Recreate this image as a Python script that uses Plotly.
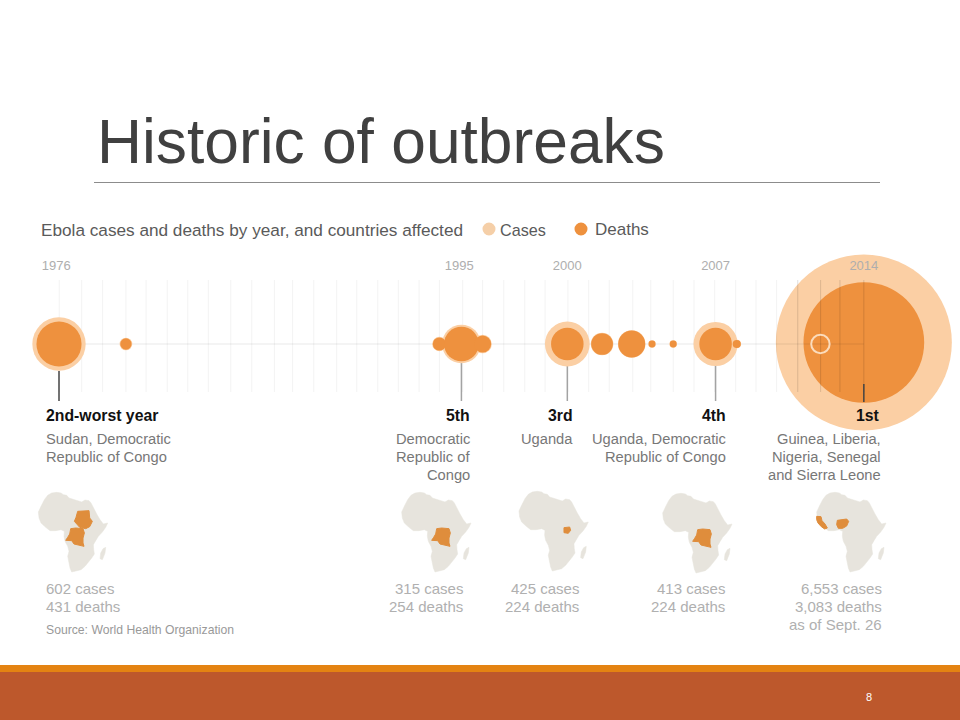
import plotly.graph_objects as go

# ---------- chart data ----------
bubble_years = [1976, 1979.16, 1993.96, 1995, 1996, 2000, 2001.64, 2003.04, 2004, 2005, 2007, 2008]
bubble_cases = [602, 34, 44, 315, 72, 425, 108, 160, 12, 12, 413, 16]
bubble_deaths = [431, 27, 37, 254, 62, 224, 100, 154, 10, 10, 224, 14]
current_year = [2014]
current_cases = [6553]
current_deaths = [3083]
ring_year = [2011.95]
ring_cases = [72]
grid_years = [1976.01, 1977.07, 1978.06, 1979.16, 1980.11, 1981.11, 1982.08, 1983.05, 1984.11, 1985.10,
              1986.17, 1987.03, 1988.03, 1989.11, 1990.06, 1991.05, 1992.02, 1993.0, 1993.96, 1995.06,
              1996.0, 1997.0, 1997.99, 1998.95, 2000.03, 2001.01, 2001.98, 2003.09, 2003.94, 2005.0,
              2005.98, 2006.96, 2007.95, 2008.91, 2009.88, 2010.88, 2011.96, 2012.87, 2014.0]
label_years = [1976, 1995, 2000, 2007, 2014]
label_positions = [1975.87, 1994.9, 2000, 2007, 2014]
lead_years_light = [1995, 2000, 2007]
lead_years_dark = [1976, 2014]

# Africa outlines, traced in a local 240 x 255 box
africa_x = [48,60,75,88,95,105,112,120,135,150,160,172,178,185,195,205,215,228,222,212,200,192,185,186,188,180,170,160,148,130,120,115,110,108,112,108,100,97,98,88,72,55,42,28,22,20,28,38]
africa_y = [22,15,13,15,20,22,30,33,38,42,36,38,45,60,78,95,108,105,118,132,145,158,170,185,198,210,222,235,245,250,252,240,220,205,190,175,160,145,130,125,128,128,118,105,90,72,55,35]
madagascar_x = [214,222,220,212,205,207]
madagascar_y = [182,178,195,215,212,195]
drc_x = [125,140,162,166,162,162,165,150,135,128,110,116,122]
drc_y = [122,120,122,135,150,165,175,172,168,158,157,148,138]
sudan_x = [146,180,182,190,182,170,152,136,141]
sudan_y = [70,68,90,100,116,122,118,100,88]
uganda_x = [163,180,183,176,163]
uganda_y = [123,121,131,140,138]
west_x = [20,33,36,45,52,44,34,24,20]
west_y = [85,86,98,108,120,123,116,105,95]
nigeria_x = [82,110,116,110,98,85,80]
nigeria_y = [97,93,100,114,121,121,110]

# ---------- texts ----------
title_text = "Historic of outbreaks"
subtitle_text = "Ebola cases and deaths by year, and countries affected"
rank_labels = ["2nd-worst year", "5th", "3rd", "4th", "1st"]
country_lines = [
    ["Sudan, Democratic", "Republic of Congo"],
    ["Democratic", "Republic of", "Congo"],
    ["Uganda"],
    ["Uganda, Democratic", "Republic of Congo"],
    ["Guinea, Liberia,", "Nigeria, Senegal", "and Sierra Leone"],
]
stat_lines = [
    ["602 cases", "431 deaths"],
    ["315 cases", "254 deaths"],
    ["425 cases", "224 deaths"],
    ["413 cases", "224 deaths"],
    ["6,553 cases", "3,083 deaths", "as of Sept. 26"],
]
source_text = "Source: World Health Organization"
page_number = "8"

# ---------- styling ----------
W, H = 960, 720
CASE = "#FBCFA4"
DEATH = "#EE913E"
FONT = "Liberation Sans"
PX_PER_YEAR = 21.18
YEAR0_PX = 59
BASE_PX = 344
SIZEREF = 2 * 6553 / 176 ** 2


def year_at(px):
    return 1976 + (px - YEAR0_PX) / PX_PER_YEAR


def vlines(xs, y0, y1):
    ox, oy = [], []
    for x in xs:
        ox += [x, x, None]
        oy += [y0, y1, None]
    return ox, oy


def bubble(x, v, color, name, y=0):
    return go.Scatter(x=x, y=[y] * len(x), mode="markers", name=name, showlegend=False,
                      hoverinfo="skip",
                      marker=dict(size=v, sizemode="area", sizeref=SIZEREF, sizemin=0, opacity=1,
                                  color=color, line=dict(width=0)))


fig = go.Figure()
fig.add_trace(bubble(current_year, current_cases, CASE, "Cases 2014", y=-1.5))
fig.add_trace(bubble(current_year, current_deaths, DEATH, "Deaths 2014", y=-1.5))
gx, gy = vlines(grid_years, -64, 48)
fig.add_trace(go.Scatter(x=gx, y=gy, mode="lines", hoverinfo="skip", showlegend=False,
                         line=dict(color="rgba(0,0,0,0.05)", width=1)))
gx2, gy2 = vlines(grid_years[-4:], -64, 48)
fig.add_trace(go.Scatter(x=gx2, y=gy2, mode="lines", hoverinfo="skip", showlegend=False,
                         line=dict(color="rgba(0,0,0,0.08)", width=1)))
fig.add_trace(go.Scatter(x=[1976, 2014], y=[0, 0], mode="lines", hoverinfo="skip", showlegend=False,
                         line=dict(color="rgba(0,0,0,0.09)", width=1)))
lx, ly = vlines(lead_years_light, 18, 57)
fig.add_trace(go.Scatter(x=lx, y=ly, mode="lines", hoverinfo="skip", showlegend=False,
                         line=dict(color="#A3A3A3", width=1.5)))
fig.add_trace(go.Scatter(x=[lead_years_dark[0]] * 2, y=[27, 57], mode="lines", hoverinfo="skip",
                         showlegend=False, line=dict(color="#444444", width=1.5)))
fig.add_trace(go.Scatter(x=[lead_years_dark[1]] * 2, y=[40, 58], mode="lines", hoverinfo="skip",
                         showlegend=False, line=dict(color="#444444", width=1.5)))
fig.add_trace(bubble(bubble_years, bubble_cases, CASE, "Cases"))
fig.add_trace(bubble(bubble_years, bubble_deaths, DEATH, "Deaths"))
fig.add_trace(go.Scatter(x=ring_year, y=[0], mode="markers", hoverinfo="skip", showlegend=False,
                         marker=dict(size=ring_cases, sizemode="area", sizeref=SIZEREF, opacity=1,
                                     color="rgba(0,0,0,0)", line=dict(color="#FBDCBC", width=2))))

# ---------- small maps ----------
map_origins = [(31.7, 488), (395, 488), (512.3, 487), (656, 489), (810, 488)]
map_regions = [
    [(drc_x, drc_y, -8, 0), (sudan_x, sudan_y, -8, 0)],
    [(drc_x, drc_y, 0, 0)],
    [(uganda_x, uganda_y, -8, -1)],
    [(drc_x, drc_y, 0, 0)],
    [(west_x, west_y, 0, 0), (nigeria_x, nigeria_y, 0, 0)],
]
layout_axes = {}
for i, ((ox, oy), regions) in enumerate(zip(map_origins, map_regions)):
    n = i + 2
    layout_axes[f"xaxis{n}"] = dict(domain=[ox / W, (ox + 80) / W], range=[0, 240], visible=False,
                                    anchor=f"y{n}", fixedrange=True)
    layout_axes[f"yaxis{n}"] = dict(domain=[1 - (oy + 85) / H, 1 - oy / H], range=[255, 0], visible=False,
                                    anchor=f"x{n}", fixedrange=True)
    for xs, ys in [(africa_x, africa_y), (madagascar_x, madagascar_y)]:
        fig.add_trace(go.Scatter(x=xs + xs[:1], y=ys + ys[:1], fill="toself", mode="lines",
                                 fillcolor="#E7E4DD", line=dict(color="#E7E4DD", width=0.5),
                                 hoverinfo="skip", showlegend=False, xaxis=f"x{n}", yaxis=f"y{n}"))
    for xs, ys, dx, dy in regions:
        px_ = [v + dx for v in xs]
        py_ = [v + dy for v in ys]
        fig.add_trace(go.Scatter(x=px_ + px_[:1], y=py_ + py_[:1], fill="toself", mode="lines",
                                 fillcolor="#DF8D3C", line=dict(color="#DF8D3C", width=1),
                                 hoverinfo="skip", showlegend=False, xaxis=f"x{n}", yaxis=f"y{n}"))

# ---------- annotations ----------
annotations = []


def text(px, py, s, size, color, anchor="left", bold=False, fam=FONT):
    # annotation boxes carry about 2 px of padding; compensate so px is the ink edge
    shift = {"left": -2, "right": 2, "center": 0}[anchor]
    annotations.append(dict(x=(px + shift) / W, y=1 - py / H, xref="paper", yref="paper",
                            text=f"<b>{s}</b>" if bold else s,
                            xanchor=anchor, yanchor="middle", showarrow=False,
                            font=dict(family=fam, size=size, color=color)))


text(97, 142, title_text, 62.3, "#404040")
text(41, 230, subtitle_text, 17.2, "#5A5A5A")
text(500, 230, "Cases", 16.2, "#5A5A5A")
text(595, 230, "Deaths", 17, "#5A5A5A")
text(869, 697, page_number, 11, "#FFFFFF", anchor="center")

block_x = [46, 470, 573, 726, 880]
stat_x = [46, 463, 579, 725, 882]
for i in range(5):
    anc = "left" if i == 0 else "right"
    text(block_x[i], 416, rank_labels[i], 15.8, "#111111", anc, bold=True)
    for j, line in enumerate(country_lines[i]):
        text(block_x[i] if i != 4 else 881, 439 + 18 * j, line, 14.7, "#777777", anc)
    for j, line in enumerate(stat_lines[i]):
        text(stat_x[i], 588 + 18 * j, line, 15, "#B0B0B0", anc)
text(46, 630, source_text, 12.2, "#999999")

# ---------- page furniture & legend keys ----------
shapes = [
    dict(type="line", xref="paper", yref="paper", x0=94 / W, x1=880 / W, y0=1 - 182.5 / H, y1=1 - 182.5 / H,
         line=dict(color="#8C8C8C", width=1)),
    dict(type="rect", xref="paper", yref="paper", x0=0, x1=1, y0=1 - 672 / H, y1=1 - 665 / H,
         fillcolor="#E48312", line=dict(width=0)),
    dict(type="rect", xref="paper", yref="paper", x0=0, x1=1, y0=0, y1=1 - 672 / H,
         fillcolor="#BD582C", line=dict(width=0)),
    dict(type="circle", xref="paper", yref="paper", x0=(489 - 6.5) / W, x1=(489 + 6.5) / W,
         y0=1 - (229 + 6.5) / H, y1=1 - (229 - 6.5) / H, fillcolor="#F5CFA8", line=dict(width=0)),
    dict(type="circle", xref="paper", yref="paper", x0=(581 - 6.5) / W, x1=(581 + 6.5) / W,
         y0=1 - (229 + 6.5) / H, y1=1 - (229 - 6.5) / H, fillcolor=DEATH, line=dict(width=0)),
]

fig.update_layout(
    width=W, height=H, margin=dict(l=0, r=0, t=0, b=0),
    paper_bgcolor="#FFFFFF", plot_bgcolor="rgba(0,0,0,0)", showlegend=False,
    xaxis=dict(range=[year_at(0), year_at(W)], domain=[0, 1], side="top", anchor="free",
               position=1 - 273 / H, tickmode="array", tickvals=label_positions,
               ticktext=[str(y) for y in label_years], showgrid=False, zeroline=False, showline=False,
               ticks="", tickfont=dict(family=FONT, size=13, color="#AEAEAE"), fixedrange=True),
    yaxis=dict(range=[H - BASE_PX, -BASE_PX], domain=[0, 1], visible=False, fixedrange=True),
    annotations=annotations, shapes=shapes, **layout_axes,
)

fig.write_html("out.html", post_script="document.body.style.margin='0';",
               config={"displayModeBar": False})
